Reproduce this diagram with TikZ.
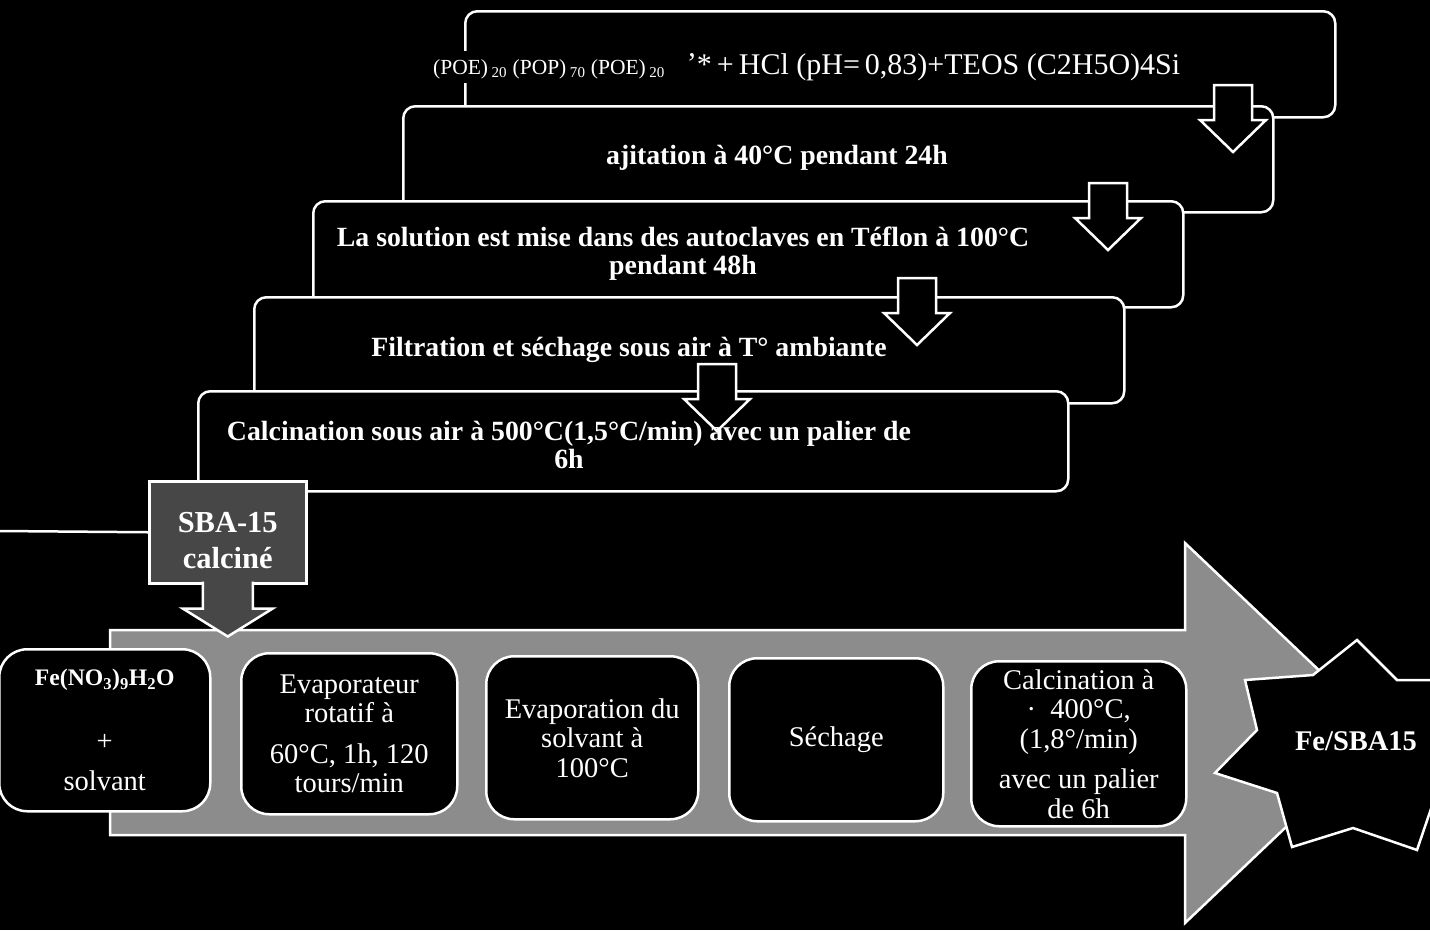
\documentclass[tikz,border=0pt]{standalone}
\usepackage{fontspec}
\setmainfont{Liberation Serif}
\definecolor{arrowgray}{gray}{0.55}
\definecolor{sbagray}{gray}{0.28}
\begin{document}
\begin{tikzpicture}[x=1pt,y=-1pt,
  wl/.style={draw=white, line width=2.5pt, line join=miter},
  stepbox/.style={wl, fill=black, rounded corners=12pt, minimum width=870pt, minimum height=106pt, anchor=north west, inner sep=0pt},
  steptext/.style={text=white, font=\fontsize{27.8}{28}\selectfont\bfseries, align=center, inner sep=1pt},
  subbox/.style={wl, fill=black, rounded corners=28pt, anchor=north west, minimum height=162pt, text=white, font=\fontsize{28.5}{29.5}\selectfont, align=center, inner sep=0pt},
  downarr/.pic={\draw[wl, fill=black] (-19,0) -- (19,0) -- (19,35) -- (33,35) -- (0,67) -- (-33,35) -- (-19,35) -- cycle;}
]
\useasboundingbox (0,0) rectangle (1430,930);
\clip (0,0) rectangle (1430,930);
\fill[black] (0,0) rectangle (1430,930);

% staircase of steps
\node[stepbox] (step1) at (464,10) {};
\node[text=white, fill=black, anchor=west, inner sep=2pt] (lab1) at (431,67)
  {\fontsize{21.5}{24}\selectfont (POE)\,\textsubscript{20} (POP)\,\textsubscript{70} (POE)\,\textsubscript{20}\hspace{22pt}\fontsize{30}{32}\selectfont\raisebox{1pt}{'}*\,+\,HCl (pH=\,0,83)+TEOS (C2H5O)4Si};
\node[stepbox] (step2) at (402,105) {};
\node[steptext] (lab2) at (777,158) {ajitation à 40°C pendant 24h};
\pic at (1233,85) {downarr};
\node[stepbox] (step3) at (312,200) {};
\node[steptext] (lab3) at (683,254) {La solution est mise dans des autoclaves en Téflon à 100°C\\pendant 48h};
\pic at (1108,183) {downarr};
\node[stepbox] (step4) at (253,296) {};
\node[steptext] (lab4) at (629,350) {Filtration et séchage sous air à T° ambiante};
\pic at (917,278) {downarr};
\node[stepbox, minimum height=100pt] (step5) at (197,390) {};
\pic at (717,364) {downarr};
\node[steptext] (lab5) at (569,445) {Calcination sous air à 500°C(1,5°C/min) avec un palier de\\6h};

% big process arrow
\draw[wl, fill=arrowgray] (110,630) -- (1185,630) -- (1185,543) -- (1385,733) -- (1185,923) -- (1185,835) -- (110,835) -- cycle;

% SBA-15 box and its arrow
\node[wl, fill=sbagray, minimum width=157pt, minimum height=102pt, anchor=north west, text=white, align=center,
  font=\fontsize{30.5}{36}\selectfont\bfseries, inner sep=0pt] (sba) at (148,480) {\raisebox{0pt}[36pt]{SBA-15}\\calciné};
\draw[wl] (0,531) -- (sba.west);
\draw[wl, fill=sbagray] ([shift={(-25,-3)}]sba.south) -- ++(0,27) -- ++(-20,0) -- ++(45,28) -- ++(45,-28) -- ++(-20,0) -- ++(0,-27);

% sub-step boxes
\node[subbox, minimum width=211pt] (b1) at (-2,648)
  {{\bfseries\fontsize{23.7}{25}\selectfont Fe(NO\textsubscript{3})\textsubscript{9}H\textsubscript{2}O}\\[35pt] +\\[11pt] solvant};
\node[subbox, minimum width=216pt, minimum height=161pt] (b2) at (240,652)
  {Evaporateur\\rotatif à\\[11pt] 60°C, 1h, 120\\tours/min};
\node[subbox, minimum width=212pt, minimum height=163pt] (b3) at (485,655)
  {Evaporation du\\solvant à\\100°C};
\node[subbox, minimum width=214pt, minimum height=163pt] (b4) at (728,657)
  {Séchage};
\node[subbox, minimum width=215pt, minimum height=165pt] (b5) at (970,660)
  {Calcination à\\·\enspace 400°C,\\(1,8°/min)\\[11pt] avec un palier\\de 6h};

% final star
\draw[wl, fill=black] (1313,675) -- (1357,640) -- (1397,680) -- (1435,680) -- (1460,740) -- (1435,797)
  -- (1417,850) -- (1353,828) -- (1292,847) -- (1277,793) -- (1215,773) -- (1257,730) -- (1245,680) -- cycle;
\node[text=white, font=\fontsize{28.5}{30}\selectfont\bfseries, inner sep=0pt] (fe) at (1356,741) {Fe/SBA15};
\end{tikzpicture}
\end{document}
